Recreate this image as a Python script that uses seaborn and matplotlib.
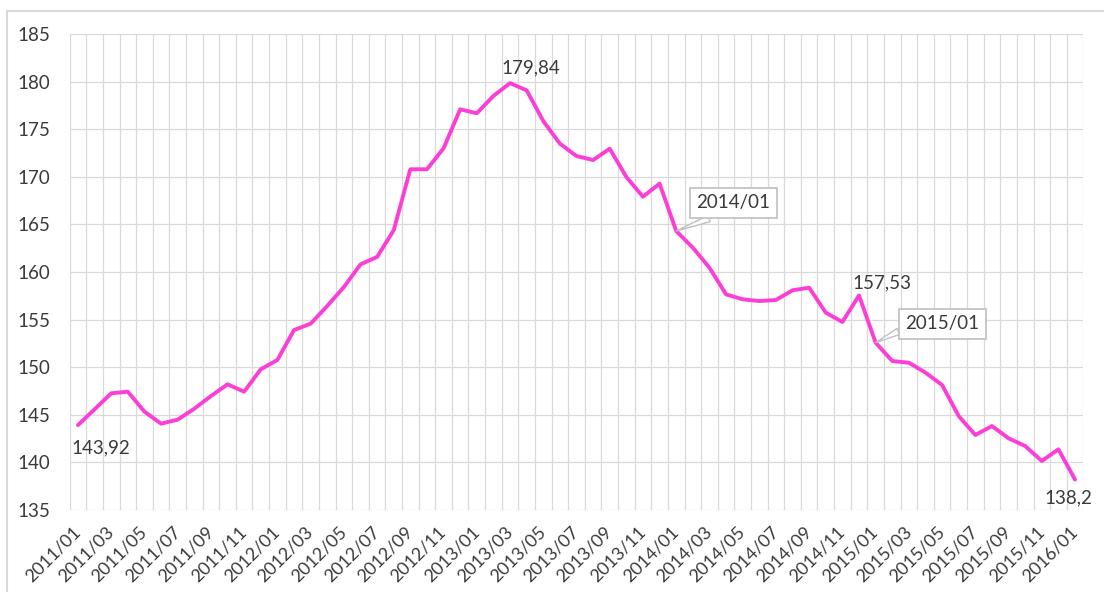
import matplotlib
matplotlib.use('Agg')
import matplotlib.pyplot as plt
from matplotlib.lines import Line2D
import seaborn as sns
import pandas as pd
import numpy as np

# monthly series, 2011/01 .. 2016/01
months = [f"{y}/{m:02d}" for y in range(2011, 2016) for m in range(1, 13)] + ["2016/01"]
values = [
    143.92, 145.58, 147.26, 147.43, 145.33, 144.07, 144.49, 145.64, 146.97, 148.20, 147.43, 149.78,
    150.76, 153.90, 154.57, 156.43, 158.42, 160.80, 161.58, 164.38, 170.79, 170.79, 172.99, 177.09,
    176.67, 178.49, 179.84, 179.08, 175.86, 173.48, 172.18, 171.76, 172.95, 169.98, 167.91, 169.28,
    164.31, 162.55, 160.45, 157.65, 157.13, 156.95, 157.06, 158.08, 158.35, 155.73, 154.75, 157.53,
    152.58, 150.65, 150.47, 149.43, 148.13, 144.87, 142.88, 143.82, 142.53, 141.72, 140.15, 141.37,
    138.20,
]
value_labels = {0: "143,92", 26: "179,84", 47: "157,53", 60: "138,2"}
callouts = {36: "2014/01", 48: "2015/01"}

df = pd.DataFrame({"idx": range(len(months)), "month": months, "value": values})

sns.set_theme(style="white")
plt.rcParams['font.family'] = ['Lato', 'DejaVu Sans']
txt_color = '#3a3a3a'
grid_color = '#d9d9d9'
fsize = 13.5

fig = plt.figure(figsize=(11.04, 5.92), dpi=100)
ax = fig.add_axes([0.0631, 0.1385, 0.9182, 0.8041])

sns.lineplot(data=df, x="idx", y="value", color='#fb3fd6', linewidth=2.8, ax=ax, zorder=3)

n = len(months)
ax.set_xlim(-0.5, n - 0.5)
ax.set_ylim(135, 185)
ax.set_yticks(np.arange(135, 186, 5))
ax.set_xticks(range(0, n, 2))
ax.set_xticklabels(months[::2], rotation=45, ha='right', va='center', rotation_mode='anchor')
ax.set_xticks(np.arange(-0.5, n, 1), minor=True)
ax.grid(False)
ax.grid(True, which='minor', axis='x', color=grid_color, lw=0.9)
ax.grid(True, which='major', axis='y', color=grid_color, lw=0.9)
ax.tick_params(axis='both', which='both', length=0, labelsize=fsize, colors=txt_color)
ax.tick_params(axis='x', labelsize=13)
ax.tick_params(axis='y', pad=14)
ax.tick_params(axis='x', pad=14)
for s in ax.spines.values():
    s.set_visible(False)
ax.set_xlabel("")
ax.set_ylabel("")

# data labels
offsets = {0: (23, -23), 26: (21, 15), 47: (23, 13), 60: (-7, -18)}
for i, lab in value_labels.items():
    ax.annotate(lab, (i, values[i]), xytext=offsets[i], textcoords='offset pixels',
                ha='center', va='center', fontsize=fsize, color=txt_color)

# callouts
call_off = {36: (57, 28), 48: (67, 19)}
call_rel = {36: (0.43, 0.0), 48: (0.0, 0.25)}
for i, lab in callouts.items():
    ax.annotate(lab, (i, values[i]), xytext=call_off[i], textcoords='offset pixels',
                ha='center', va='center', fontsize=fsize, color=txt_color, zorder=5,
                bbox=dict(boxstyle='square,pad=0.35', fc='white', ec='#bfbfbf', lw=1.2),
                arrowprops=dict(arrowstyle='wedge,tail_width=0.35,shrink_factor=0.5',
                                fc='white', ec='#bfbfbf', lw=1, relpos=call_rel[i],
                                shrinkA=0, shrinkB=0))

# chart area border (top and left visible)
fig.add_artist(Line2D([7 / 1104, 1.0], [1 - 11 / 592] * 2, color=grid_color, lw=1.5,
                      transform=fig.transFigure))
fig.add_artist(Line2D([7 / 1104] * 2, [0.0, 1 - 11 / 592], color=grid_color, lw=1.5,
                      transform=fig.transFigure))

fig.savefig('out.png', dpi=100)
